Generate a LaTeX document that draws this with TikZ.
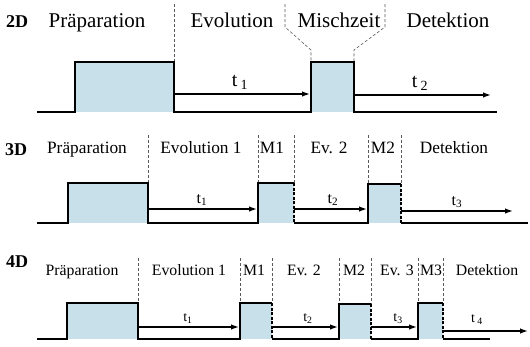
\documentclass[tikz,border=0pt]{standalone}
\usepackage{fontspec}
\setmainfont{LiberationSerif}[Extension=.ttf,UprightFont=*-Regular,BoldFont=*-Bold]
\usetikzlibrary{arrows.meta}
\definecolor{pulseblue}{RGB}{200,224,234}

\begin{document}
\begin{tikzpicture}[x=1pt,y=-1pt,
  seq/.style={line width=1.6pt,line join=miter},
  pulse/.style={fill=pulseblue},
  divider/.style={gray!70!black,line width=0.6pt,dash pattern=on 3pt off 2pt},
  edge/.style={black,line width=1.1pt,dash pattern=on 3pt off 1.5pt},
  tarrow/.style={-{Latex[length=8pt,width=5.5pt]},line width=1.4pt},
  lblA/.style={anchor=base,inner sep=0pt,font=\fontsize{21}{24}\selectfont},
  lblB/.style={anchor=base,inner sep=0pt,font=\fontsize{17.3}{20}\selectfont},
  lblC/.style={anchor=base,inner sep=0pt,font=\fontsize{15.8}{18}\selectfont},
  dimlbl/.style={anchor=base,inner sep=0pt,font=\fontsize{18}{20}\selectfont\bfseries},
  tA/.style={anchor=base,inner sep=0pt,font=\fontsize{20}{22}\selectfont},
  tB/.style={anchor=base,inner sep=0pt,font=\fontsize{16}{18}\selectfont},
  tC/.style={anchor=base,inner sep=0pt,font=\fontsize{14}{16}\selectfont}]
  \useasboundingbox (0,0) rectangle (530,346);

  % 2D sequence
  \fill[pulse] (75,112) rectangle (174,62);
  \fill[pulse] (311,112) rectangle (354,62);
  \draw[divider] (174,4) -- (174,62);
  \draw[divider] (285,4) -- (285,27) -- (311,50) -- (311,62);
  \draw[divider] (385,4) -- (385,27) -- (354,50) -- (354,62);
  \draw[seq] (37,112) -- (75,112) -- (75,62) -- (174,62) -- (174,112) -- (311,112)
    -- (311,62) -- (354,62) -- (354,112) -- (497,112);
  \draw[tarrow] (174,94) -- (310,94);
  \draw[tarrow] (354,95) -- (491,95);
  \node[dimlbl] (dimtwo) at (17,27) {2D};
  \node[lblA] (prepA) at (97,27) {Präparation};
  \node[lblA] (evolA) at (232,27) {Evolution};
  \node[lblA] (mixA) at (339,27) {Mischzeit};
  \node[lblA] (detA) at (448,27) {Detektion};
  \node[tA] (tAone) at (240,86) {t\,\textsubscript{1}};
  \node[tA] (tAtwo) at (420,87) {t\,\textsubscript{2}};

  % 3D sequence
  \fill[pulse] (68,223) rectangle (148,183);
  \fill[pulse] (258,223) rectangle (294,183);
  \fill[pulse] (368,223) rectangle (401,184);
  \foreach \xd/\yd in {148/183,258/183,294/183,368/184,401/184}
    \draw[divider] (\xd,135) -- (\xd,\yd);
  \draw[seq] (37,223) -- (68,223) -- (68,183) -- (148,183) -- (148,223) -- (258,223)
    -- (258,183) -- (294,183);
  \draw[seq] (294,223) -- (368,223) -- (368,184) -- (401,184);
  \draw[seq] (401,223) -- (528,223);
  \draw[edge] (294,183) -- (294,223);
  \draw[edge] (401,184) -- (401,223);
  \draw[tarrow] (148,209) -- (257,209);
  \draw[tarrow] (294,209) -- (367,209);
  \draw[tarrow] (401,211) -- (513,211);
  \node[dimlbl] (dimthree) at (16,155) {3D};
  \node[lblB] (prepB) at (87,153) {Präparation};
  \node[lblB] (evolB) at (201,153) {Evolution 1};
  \node[lblB] (mixBone) at (272,153) {M1};
  \node[lblB] (evolBtwo) at (329,153) {Ev. 2};
  \node[lblB] (mixBtwo) at (383,153) {M2};
  \node[lblB] (detB) at (454,153) {Detektion};
  \node[tB] (tBone) at (202,203) {t\textsubscript{1}};
  \node[tB] (tBtwo) at (333,203) {t\textsubscript{2}};
  \node[tB] (tBthree) at (457,205) {t\textsubscript{3}};

  % 4D sequence
  \fill[pulse] (67,339) rectangle (138,303);
  \fill[pulse] (240,339) rectangle (272,303);
  \fill[pulse] (339,339) rectangle (371,304);
  \fill[pulse] (418,339) rectangle (443,303);
  \foreach \xd/\yd in {138/303,240/303,272/303,339/304,371/304,418/303,443/303}
    \draw[divider] (\xd,258) -- (\xd,\yd);
  \draw[seq] (37,339) -- (67,339) -- (67,303) -- (138,303) -- (138,339) -- (240,339)
    -- (240,303) -- (272,303);
  \draw[seq] (272,339) -- (339,339) -- (339,304) -- (371,304);
  \draw[seq] (371,339) -- (418,339) -- (418,303) -- (443,303);
  \draw[seq] (443,339) -- (490,339);
  \draw[edge] (272,303) -- (272,339);
  \draw[edge] (371,304) -- (371,339);
  \draw[edge] (443,303) -- (443,339);
  \draw[tarrow] (138,327) -- (239,327);
  \draw[tarrow] (272,327) -- (338,327);
  \draw[tarrow] (371,327) -- (417,327);
  \draw[tarrow] (443,331) -- (528,331);
  \node[dimlbl] (dimfour) at (17,267) {4D};
  \node[lblC] (prepC) at (82,275) {Präparation};
  \node[lblC] (evolC) at (189,275) {Evolution 1};
  \node[lblC] (mixCone) at (254,275) {M1};
  \node[lblC] (evolCtwo) at (304,275) {Ev. 2};
  \node[lblC] (mixCtwo) at (354,275) {M2};
  \node[lblC] (evolCthree) at (397,275) {Ev. 3};
  \node[lblC] (mixCthree) at (431,275) {M3};
  \node[lblC] (detC) at (487,275) {Detektion};
  \node[tC] (tCone) at (188,321) {t\textsubscript{1}};
  \node[tC] (tCtwo) at (308,321) {t\textsubscript{2}};
  \node[tC] (tCthree) at (398,321) {t\textsubscript{3}};
  \node[tC] (tCfour) at (477,322) {t\,\textsubscript{4}};
\end{tikzpicture}
\end{document}
